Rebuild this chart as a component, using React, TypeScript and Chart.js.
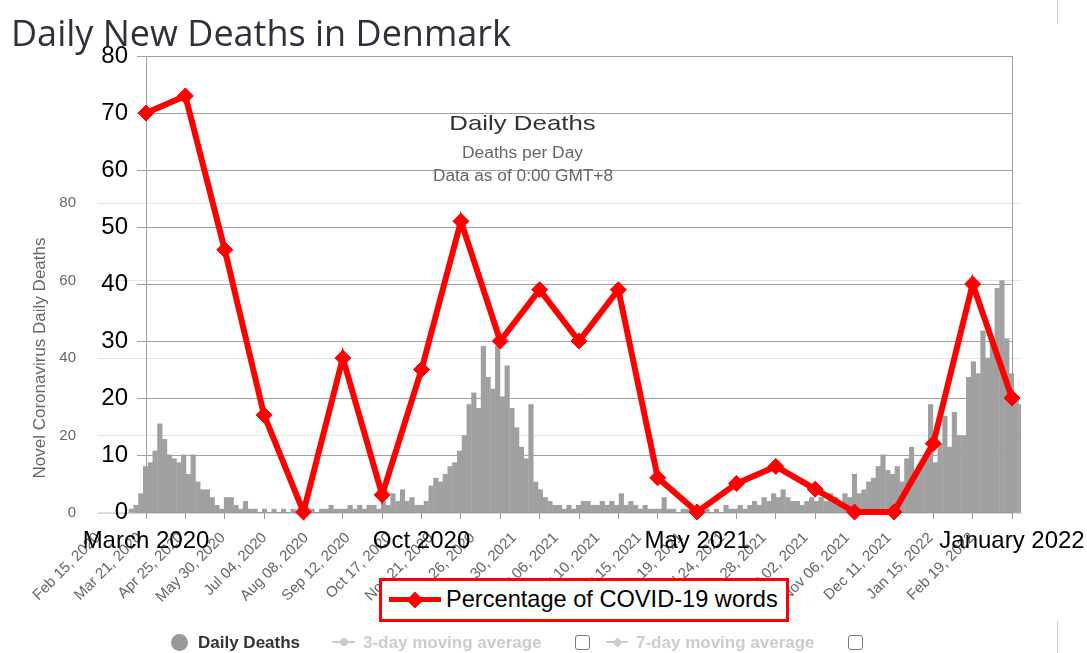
import React, { useEffect, useRef } from "react";
import { Chart, registerables } from "chart.js";

Chart.register(...registerables);

const PAGE_TITLE = "Daily New Deaths in Denmark";

// ---- Foreground (red) series ----
const redCategories = [
  "March 2020", "", "", "", "", "", "", "Oct 2020", "", "", "", "", "", "",
  "May 2021", "", "", "", "", "", "", "", "January 2022",
];
const redValues = [70, 73, 46, 17, 0, 27, 3, 25, 51, 30, 39, 30, 39, 6, 0, 5, 8, 4, 0, 0, 12, 40, 20];
const redSeriesLabel = "Percentage of COVID-19 words";
const redYMax = 80;
const redYStep = 10;

// ---- Background (gray) daily deaths chart ----
const grayTitle = "Daily Deaths";
const graySubtitle = "Deaths per Day";
const grayCaption = "Data as of 0:00 GMT+8";
const grayYTitle = "Novel Coronavirus Daily Deaths";
const grayTickLabels = [
  "Feb 15, 2020", "Mar 21, 2020", "Apr 25, 2020", "May 30, 2020", "Jul 04, 2020", "Aug 08, 2020",
  "Sep 12, 2020", "Oct 17, 2020", "Nov 21, 2020", "Dec 26, 2020", "Jan 30, 2021", "Mar 06, 2021",
  "Apr 10, 2021", "May 15, 2021", "Jun 19, 2021", "Jul 24, 2021", "Aug 28, 2021", "Oct 02, 2021",
  "Nov 06, 2021", "Dec 11, 2021", "Jan 15, 2022", "Feb 19, 2022",
];
const grayTickEveryDays = 35;
const graySampleEveryDays = 4;
const grayLastDay = 776;
const grayYMax = 80;
const grayYStep = 20;
// daily deaths, one reading every 4 days from Feb 15, 2020
const grayDeaths = [
  0, 0, 0, 0, 0, 0, 0, 1, 2, 5,
  12, 13, 16, 23, 19, 15, 14, 13, 15, 10,
  15, 8, 6, 6, 4, 2, 1, 4, 4, 2,
  1, 3, 1, 1, 0, 1, 0, 1, 0, 1,
  0, 1, 0, 1, 0, 1, 0, 1, 1,
  2, 1, 1, 1, 2, 1, 2, 1, 2, 2,
  1, 3, 2, 5, 3, 6, 3, 4, 2, 2,
  3, 7, 9, 8, 10, 12, 13, 16, 20, 28,
  31, 27, 43, 35, 32, 43, 30, 38, 27, 22,
  17, 14, 28, 8, 6, 4, 3, 2, 2, 1,
  2, 1, 2, 3, 3, 2, 2, 3, 2, 3,
  2, 5, 2, 3, 2, 1, 2, 1, 1, 1,
  4, 1, 1, 0, 1, 1, 0, 1, 0, 1,
  0, 1, 0, 2, 1, 1, 2, 1, 2, 3,
  2, 4, 3, 5, 4, 6, 4, 3, 3,
  2, 3, 4, 3, 4, 3, 5, 4, 3, 5,
  4, 10, 5, 6, 8, 9, 12, 15, 11, 10,
  12, 8, 14, 17, 10, 12, 14, 28, 13, 18,
  25, 17, 26, 20, 20, 35, 39, 36, 47, 40,
  44, 58, 60, 45, 36, 30, 28,
];
const grayLegend = ["Daily Deaths", "3-day moving average", "7-day moving average"];

const SANS = "'Liberation Sans', Arial, Helvetica, sans-serif";

export default function App() {
  const grayRef = useRef<HTMLCanvasElement>(null);
  const redRef = useRef<HTMLCanvasElement>(null);

  useEffect(() => {
    Chart.defaults.font.family = SANS;

    const grayChart = new Chart(grayRef.current as HTMLCanvasElement, {
      type: "bar",
      data: {
        datasets: [
          {
            label: grayLegend[0],
            data: grayDeaths.map((v, i) => ({ x: i * graySampleEveryDays, y: v })),
            backgroundColor: "#a0a0a0",
            borderWidth: 0,
            barThickness: 4.5,
          } as any,
        ],
      },
      options: {
        animation: false,
        responsive: false,
        events: [],
        layout: { padding: { left: 0, right: 66, top: 203, bottom: 0 } },
        plugins: { legend: { display: false }, title: { display: false }, tooltip: { enabled: false } },
        scales: {
          x: {
            type: "linear",
            min: 0,
            max: grayLastDay,
            offset: false,
            afterBuildTicks: (s: any) => {
              s.ticks = grayTickLabels.map((_, i) => ({ value: i * grayTickEveryDays }));
            },
            afterFit: (s: any) => {
              s.height = 140;
              s.paddingLeft = 0;
              s.paddingRight = 0;
            },
            grid: { display: false, drawTicks: false },
            border: { display: true, color: "#ccd6eb", width: 1 },
            ticks: {
              autoSkip: false,
              maxRotation: 45,
              minRotation: 45,
              padding: 16,
              color: "#666666",
              font: { size: 15 },
              callback: (_v: any, i: number) => grayTickLabels[i] ?? "",
            },
          },
          y: {
            min: 0,
            max: grayYMax,
            afterFit: (s: any) => {
              s.width = 98;
            },
            grid: { color: "#e3e3e3", drawTicks: false },
            border: { display: false },
            ticks: { stepSize: grayYStep, padding: 22, color: "#666666", font: { size: 15 } },
            title: {
              display: true,
              text: grayYTitle,
              color: "#666666",
              font: { size: 17 },
              padding: { top: 30, bottom: 0 },
            },
          },
        },
      } as any,
    });

    const redChart = new Chart(redRef.current as HTMLCanvasElement, {
      type: "line",
      data: {
        labels: redCategories,
        datasets: [
          {
            label: redSeriesLabel,
            data: redValues,
            borderColor: "#ff0000",
            backgroundColor: "#ff0000",
            borderWidth: 6,
            pointStyle: "rectRot",
            pointRadius: 8,
            pointBorderWidth: 1,
            pointBackgroundColor: "#ff0000",
            pointBorderColor: "#ff0000",
            tension: 0,
            clip: false,
          } as any,
        ],
      },
      options: {
        animation: false,
        responsive: false,
        events: [],
        layout: { padding: { left: 0, right: 75, top: 56, bottom: 0 } },
        plugins: { legend: { display: false }, tooltip: { enabled: false } },
        scales: {
          x: {
            type: "category",
            offset: false,
            afterFit: (s: any) => {
              s.height = 141;
              s.paddingLeft = 0;
              s.paddingRight = 0;
            },
            grid: { drawOnChartArea: false, drawTicks: true, tickLength: 7, color: "#999999" },
            border: { display: true, color: "#999999" },
            ticks: { autoSkip: false, maxRotation: 0, minRotation: 0, padding: 8, color: "#000000", font: { size: 24 } },
          },
          y: {
            min: 0,
            max: redYMax,
            afterFit: (s: any) => {
              s.width = 146;
            },
            grid: { color: "#a0a0a0", tickLength: 9 },
            border: { display: true, color: "#a0a0a0" },
            ticks: { stepSize: redYStep, padding: 9, color: "#000000", font: { size: 24 } },
          },
          y2: {
            position: "right",
            min: 0,
            max: redYMax,
            afterFit: (s: any) => {
              s.width = 0;
            },
            grid: { drawOnChartArea: false, drawTicks: false },
            border: { display: true, color: "#a0a0a0" },
            ticks: { display: false },
          },
        },
      } as any,
    });

    return () => {
      grayChart.destroy();
      redChart.destroy();
    };
  }, []);

  const abs = (s: React.CSSProperties): React.CSSProperties => ({ position: "absolute", ...s });

  return (
    <div
      style={{
        position: "fixed",
        left: 0,
        top: 0,
        width: 1087,
        height: 653,
        background: "#ffffff",
        overflow: "hidden",
      }}
    >
      <canvas ref={grayRef} width={1087} height={653} style={abs({ left: 0, top: 0 })} />
      <canvas ref={redRef} width={1087} height={653} style={abs({ left: 0, top: 0 })} />

      {/* page title */}
      <div
        style={abs({
          left: 11,
          top: 14.5,
          fontFamily: "'Open Sans', 'Noto Sans', sans-serif",
          fontSize: 36,
          lineHeight: 1,
          color: "#2e303b",
          whiteSpace: "nowrap",
        })}
      >
        {PAGE_TITLE}
      </div>

      {/* gray chart titles */}
      <div
        style={abs({
          left: 0,
          width: 1045,
          top: 112,
          textAlign: "center",
          fontFamily: SANS,
          fontSize: 21,
          lineHeight: 1,
          color: "#333333",
          transform: "scaleX(1.23)",
          transformOrigin: "center",
          whiteSpace: "nowrap",
        })}
      >
        {grayTitle}
      </div>
      <div
        style={abs({
          left: 0,
          width: 1045,
          top: 145,
          textAlign: "center",
          fontFamily: SANS,
          fontSize: 16,
          lineHeight: 1,
          color: "#666666",
          transform: "scaleX(1.09)",
          transformOrigin: "center",
          whiteSpace: "nowrap",
        })}
      >
        {graySubtitle}
      </div>
      <div
        style={abs({
          left: 0,
          width: 1046,
          top: 168,
          textAlign: "center",
          fontFamily: SANS,
          fontSize: 16,
          lineHeight: 1,
          color: "#666666",
          transform: "scaleX(1.08)",
          transformOrigin: "center",
          whiteSpace: "nowrap",
        })}
      >
        {grayCaption}
      </div>

      {/* red legend */}
      <div
        style={abs({
          left: 379,
          top: 578,
          width: 410,
          height: 44,
          border: "3px solid #ff0000",
          boxSizing: "border-box",
          background: "#ffffff",
        })}
      />
      <div style={abs({ left: 389, top: 597, width: 52, height: 5, background: "#ff0000" })} />
      <div
        style={abs({
          left: 409,
          top: 593.5,
          width: 12,
          height: 12,
          background: "#ff0000",
          transform: "rotate(45deg)",
        })}
      />
      <div
        style={abs({
          left: 446,
          top: 588,
          fontFamily: SANS,
          fontSize: 23.6,
          lineHeight: 1,
          color: "#000000",
          whiteSpace: "nowrap",
        })}
      >
        {redSeriesLabel}
      </div>

      {/* gray legend */}
      <div style={abs({ left: 170.5, top: 633.5, width: 17, height: 17, borderRadius: "50%", background: "#999999" })} />
      <div
        style={abs({
          left: 198,
          top: 634,
          fontFamily: SANS,
          fontWeight: "bold",
          fontSize: 17,
          lineHeight: 1,
          color: "#333333",
          whiteSpace: "nowrap",
        })}
      >
        {grayLegend[0]}
      </div>
      <div style={abs({ left: 332, top: 641, width: 23, height: 2, background: "#cccccc" })} />
      <div style={abs({ left: 339.5, top: 638, width: 8, height: 8, borderRadius: "50%", background: "#cccccc" })} />
      <div
        style={abs({
          left: 363,
          top: 634,
          fontFamily: SANS,
          fontWeight: "bold",
          fontSize: 17,
          lineHeight: 1,
          color: "#cccccc",
          whiteSpace: "nowrap",
        })}
      >
        {grayLegend[1]}
      </div>
      <div
        style={abs({
          left: 575,
          top: 635,
          width: 15,
          height: 15,
          border: "1px solid #777777",
          borderRadius: 3,
          boxSizing: "border-box",
        })}
      />
      <div style={abs({ left: 606, top: 641, width: 22, height: 2, background: "#cccccc" })} />
      <div
        style={abs({
          left: 613.5,
          top: 638.5,
          width: 7,
          height: 7,
          background: "#cccccc",
          transform: "rotate(45deg)",
        })}
      />
      <div
        style={abs({
          left: 636,
          top: 634,
          fontFamily: SANS,
          fontWeight: "bold",
          fontSize: 17,
          lineHeight: 1,
          color: "#cccccc",
          whiteSpace: "nowrap",
        })}
      >
        {grayLegend[2]}
      </div>
      <div
        style={abs({
          left: 848,
          top: 635,
          width: 15,
          height: 15,
          border: "1px solid #777777",
          borderRadius: 3,
          boxSizing: "border-box",
        })}
      />

      {/* page decoration lines */}
      <div style={abs({ left: 1057, top: 0, width: 1, height: 24, background: "#d0d0d0" })} />
      <div style={abs({ left: 1057, top: 621, width: 1, height: 32, background: "#d0d0d0" })} />
    </div>
  );
}
